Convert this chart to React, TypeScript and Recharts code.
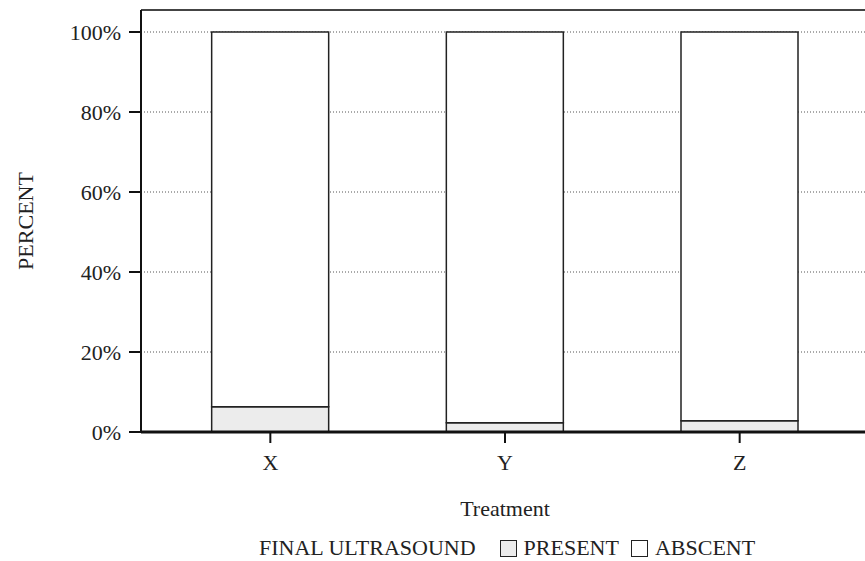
import { BarChart, Bar, XAxis, YAxis, CartesianGrid, Legend, ReferenceLine } from 'recharts'

const treatments = ['X', 'Y', 'Z']
const presentPct = [6.3, 2.3, 2.8]
const absentPct = presentPct.map((p) => 100 - p)
const yTicks = [0, 20, 40, 60, 80, 100]

const data = treatments.map((t, i) => ({ name: t, present: presentPct[i], absent: absentPct[i] }))

const FONT = '"Liberation Serif", "Times New Roman", serif'

function LegendBox() {
  const box = (fill: string) => (
    <span style={{ display: 'inline-block', width: 17, height: 17, border: '1.5px solid #222', background: fill, marginRight: 7, boxSizing: 'border-box' }} />
  )
  return (
    <div style={{ display: 'flex', alignItems: 'center', height: 26, fontFamily: FONT, fontSize: 22, color: '#222', paddingLeft: 259, whiteSpace: 'nowrap' }}>
      <span style={{ marginRight: 24 }}>FINAL ULTRASOUND</span>
      {box('#ececec')}
      <span style={{ marginRight: 12 }}>PRESENT</span>
      {box('#fff')}
      <span>ABSCENT</span>
    </div>
  )
}

export default function App() {
  return (
    <div style={{ position: 'absolute', left: 0, top: 0, width: 865, height: 561, overflow: 'hidden', background: '#fff' }}>
      <BarChart width={875} height={561} data={data} margin={{ top: 10, right: 6, bottom: 0, left: 0 }} barCategoryGap="25%">
        <CartesianGrid vertical={false} stroke="#555" strokeDasharray="1 2" />
        <XAxis
          dataKey="name"
          padding={{ left: 12, right: 12 }}
          height={103}
          tickSize={11}
          tickMargin={11}
          axisLine={{ stroke: '#111', strokeWidth: 3 }}
          tickLine={{ stroke: '#111', strokeWidth: 2 }}
          tick={{ fill: '#222', fontSize: 22, fontFamily: FONT }}
          label={{ value: 'Treatment', position: 'insideBottom', offset: 19, fill: '#222', fontSize: 22, fontFamily: FONT }}
        />
        <YAxis
          width={141}
          domain={[0, 105.5]}
          ticks={yTicks}
          tickFormatter={(v: number) => `${v}%`}
          tickSize={12}
          tickMargin={8}
          axisLine={{ stroke: '#111', strokeWidth: 2 }}
          tickLine={{ stroke: '#111', strokeWidth: 2 }}
          tick={{ fill: '#222', fontSize: 22, fontFamily: FONT }}
          label={{ value: 'PERCENT', angle: -90, position: 'insideLeft', offset: 25, fill: '#222', fontSize: 22, fontFamily: FONT, style: { textAnchor: 'middle' } }}
        />
        <ReferenceLine y={105.5} stroke="#444" strokeWidth={2} />
        <Legend verticalAlign="bottom" height={26} content={() => <LegendBox />} />
        <Bar dataKey="present" stackId="a" fill="#ececec" stroke="#222" strokeWidth={1.5} isAnimationActive={false} />
        <Bar dataKey="absent" stackId="a" fill="#ffffff" stroke="#222" strokeWidth={1.5} isAnimationActive={false} />
      </BarChart>
    </div>
  )
}
